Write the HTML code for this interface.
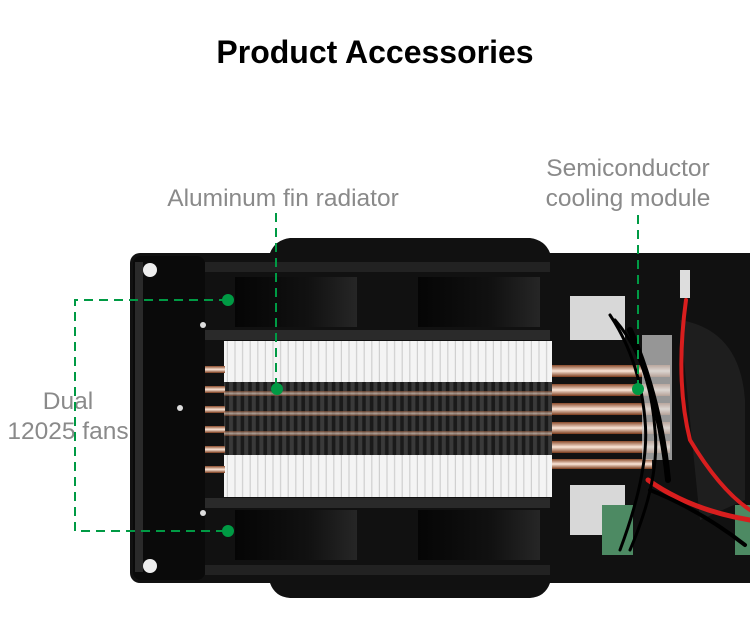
<!DOCTYPE html>
<html><head><meta charset="utf-8"><style>
html,body{margin:0;padding:0;background:#fff;width:750px;height:641px;overflow:hidden}
svg{display:block}
text{font-family:"Liberation Sans",Arial,sans-serif}
</style></head><body>
<svg width="750" height="641" viewBox="0 0 750 641" xmlns="http://www.w3.org/2000/svg">
<defs>
<linearGradient id="cu" x1="0" y1="0" x2="0" y2="1">
<stop offset="0" stop-color="#8a4a2a"/><stop offset="0.5" stop-color="#fbe6d8"/><stop offset="1" stop-color="#7a3a1a"/>
</linearGradient>
<linearGradient id="fan" x1="0" y1="0" x2="1" y2="0">
<stop offset="0" stop-color="#050505"/><stop offset="0.6" stop-color="#111"/><stop offset="1" stop-color="#262626"/>
</linearGradient>
<pattern id="fins" width="7.6" height="10" patternUnits="userSpaceOnUse">
<rect width="7.6" height="10" fill="#f4f4f4"/><rect x="6.4" width="1.2" height="10" fill="#cfcfcf"/>
</pattern>
<pattern id="dark" width="7.6" height="6" patternUnits="userSpaceOnUse">
<rect width="7.6" height="6" fill="#1a1a1a"/><rect x="1" width="4" height="6" fill="#3a3a3a"/>
</pattern>
</defs>
<text x="375" y="63" text-anchor="middle" font-size="32" font-weight="bold" fill="#000">Product Accessories</text>
<text x="283" y="206" text-anchor="middle" font-size="24.5" fill="#8a8a8a">Aluminum fin radiator</text>
<text x="628" y="176" text-anchor="middle" font-size="24.5" fill="#8a8a8a">Semiconductor</text>
<text x="628" y="206" text-anchor="middle" font-size="24.5" fill="#8a8a8a">cooling module</text>
<text x="68" y="409" text-anchor="middle" font-size="24.5" fill="#8a8a8a">Dual</text>
<text x="68" y="439" text-anchor="middle" font-size="24.5" fill="#8a8a8a">12025 fans</text>

<!-- body -->
<path d="M270 253 Q275 240 290 238 L530 238 Q545 240 550 253 Z" fill="#111"/>
<path d="M270 583 Q275 597 290 598 L530 598 Q545 597 550 583 Z" fill="#111"/>
<rect x="130" y="253" width="640" height="330" rx="10" fill="#111"/>
<rect x="133" y="256" width="72" height="324" rx="8" fill="#0a0a0a"/>
<rect x="135" y="262" width="8" height="310" fill="#2a2a2a"/>
<circle cx="150" cy="270" r="7" fill="#eee"/>
<circle cx="150" cy="566" r="7" fill="#eee"/>
<circle cx="203" cy="325" r="3" fill="#ddd"/>
<circle cx="203" cy="513" r="3" fill="#ddd"/>
<circle cx="180" cy="408" r="3" fill="#ddd"/>
<rect x="205" y="262" width="345" height="10" fill="#222"/>
<rect x="205" y="330" width="345" height="10" fill="#2a2a2a"/>
<rect x="205" y="498" width="345" height="10" fill="#2a2a2a"/>
<rect x="205" y="565" width="345" height="10" fill="#222"/>
<rect x="235" y="277" width="122" height="50" fill="url(#fan)"/>
<rect x="418" y="277" width="122" height="50" fill="url(#fan)"/>
<rect x="235" y="510" width="122" height="50" fill="url(#fan)"/>
<rect x="418" y="510" width="122" height="50" fill="url(#fan)"/>
<rect x="224" y="341" width="328" height="156" fill="url(#fins)"/>
<rect x="224" y="382" width="328" height="73" fill="url(#dark)"/>
<g fill="url(#cu)">
<rect x="205" y="366" width="20" height="7"/><rect x="205" y="386" width="20" height="7"/>
<rect x="205" y="406" width="20" height="7"/><rect x="205" y="426" width="20" height="7"/>
<rect x="205" y="446" width="20" height="7"/><rect x="205" y="466" width="20" height="7"/>
<rect x="224" y="391" width="328" height="5" opacity="0.6"/><rect x="224" y="411" width="328" height="5" opacity="0.6"/>
<rect x="224" y="431" width="328" height="5" opacity="0.6"/>
<rect x="552" y="365" width="118" height="12"/><rect x="552" y="384" width="118" height="12"/>
<rect x="552" y="403" width="118" height="12"/><rect x="552" y="422" width="118" height="12"/>
<rect x="552" y="441" width="118" height="12"/><rect x="552" y="459" width="100" height="10"/>
</g>
<rect x="570" y="296" width="55" height="44" fill="#d8d8d8"/>
<rect x="570" y="485" width="55" height="50" fill="#d8d8d8"/>
<rect x="642" y="335" width="30" height="125" fill="#cfcfcf" opacity="0.7"/>
<path d="M680 320 Q740 330 745 400 L745 500 L700 520 Z" fill="#1e1e1e"/>
<rect x="602" y="505" width="31" height="50" fill="#4d8a63"/>
<rect x="735" y="505" width="15" height="50" fill="#4d8a63"/>
<rect x="680" y="270" width="10" height="28" fill="#ddd"/>
<g fill="none" stroke-linecap="round">
<path d="M686 300 Q675 380 690 440 Q720 490 750 510" stroke="#d81e1e" stroke-width="4"/>
<path d="M648 480 Q690 510 750 520" stroke="#d81e1e" stroke-width="5"/>
<path d="M610 315 Q640 360 645 420 Q650 470 620 550" stroke="#000" stroke-width="3"/>
<path d="M615 320 Q650 360 655 430 Q660 480 630 550" stroke="#000" stroke-width="3"/>
<path d="M630 330 Q660 400 668 480" stroke="#000" stroke-width="6"/>
<path d="M650 490 Q700 510 745 545" stroke="#000" stroke-width="4"/>
</g>
<g stroke="#009a44" stroke-width="2" stroke-dasharray="9 6" fill="none">
<path d="M228 300 H75 V531 H228"/>
<path d="M276 213 V389"/>
<path d="M638 215 V389"/>
</g>
<g fill="#009a44">
<circle cx="228" cy="300" r="6"/><circle cx="228" cy="531" r="6"/>
<circle cx="277" cy="389" r="6"/><circle cx="638" cy="389" r="6"/>
</g>
</svg>
</body></html>
